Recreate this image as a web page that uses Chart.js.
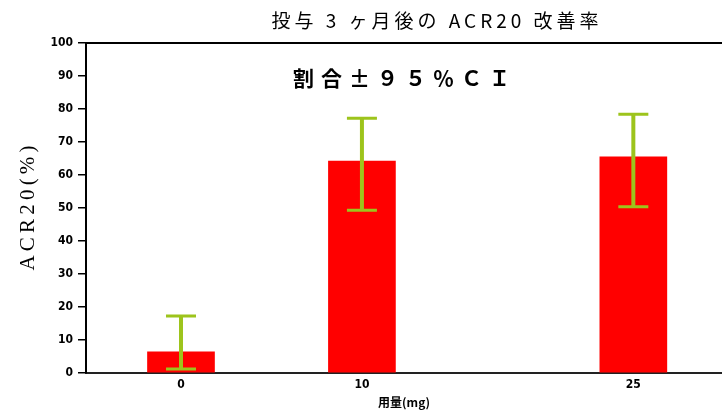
<!DOCTYPE html>
<html>
<head>
<meta charset="utf-8">
<script src="https://cdn.jsdelivr.net/npm/chart.js@4/dist/chart.umd.min.js"></script>
<style>
  html, body { margin: 0; padding: 0; background: #fff; }
  #wrap { width: 722px; height: 410px; position: relative; }
</style>
</head>
<body>
<div id="wrap"><canvas id="c"></canvas></div>
<script>
// Dose groups (mg) and ACR20 response rate with 95% CI
const doses = [0, 10, 25];
const responseRate = [6.4, 64.2, 65.5];
const ciLower = [1.2, 49.3, 50.4];
const ciUpper = [17.3, 77.2, 78.4];
const yTicks = [0, 10, 20, 30, 40, 50, 60, 70, 80, 90, 100];

const titleText = '投与 3 ヶ月後の ACR20 改善率';
const noteText = '割合±９５％ＣＩ';

// Error bars (95% CI) drawn through the chart scales
const errorBarPlugin = {
  id: 'errorBars',
  afterDatasetsDraw(chart) {
    const ctx = chart.ctx;
    const xs = chart.scales.x, ys = chart.scales.y;
    ctx.save();
    ctx.strokeStyle = '#9dc41c';
    doses.forEach((d, i) => {
      const x = xs.getPixelForValue(d);
      const yl = ys.getPixelForValue(ciLower[i]);
      const yu = ys.getPixelForValue(ciUpper[i]);
      ctx.lineWidth = 4;
      ctx.beginPath();
      ctx.moveTo(x, yl);
      ctx.lineTo(x, yu);
      ctx.stroke();
      ctx.lineWidth = 3;
      ctx.beginPath();
      ctx.moveTo(x - 15, yu); ctx.lineTo(x + 15, yu);
      ctx.moveTo(x - 15, yl); ctx.lineTo(x + 15, yl);
      ctx.stroke();
    });
    ctx.restore();
  }
};

// Title, in-plot note and the top frame line
const decorPlugin = {
  id: 'decor',
  afterDraw(chart) {
    const ctx = chart.ctx;
    const a = chart.chartArea;
    ctx.save();
    ctx.strokeStyle = '#000';
    ctx.lineWidth = 2;
    ctx.beginPath();
    ctx.moveTo(a.left - 1, a.top);
    ctx.lineTo(a.right, a.top);
    ctx.stroke();

    ctx.fillStyle = '#000';
    ctx.textAlign = 'center';
    ctx.textBaseline = 'middle';
    ctx.font = '19px "Noto Sans CJK JP", "Noto Sans", sans-serif';
    ctx.letterSpacing = '4px';
    ctx.fillText(titleText, 437, 21);

    ctx.font = 'bold 21px "Noto Sans CJK JP", sans-serif';
    ctx.letterSpacing = '7px';
    ctx.fillText(noteText, 405, 78);
    ctx.restore();
  }
};

new Chart(document.getElementById('c'), {
  type: 'bar',
  data: {
    datasets: [{
      data: doses.map((d, i) => ({ x: d, y: responseRate[i] })),
      backgroundColor: '#ff0000',
      borderWidth: 0,
      barThickness: 67
    }]
  },
  options: {
    responsive: true,
    maintainAspectRatio: false,
    animation: false,
    layout: { padding: { top: 43, right: 0, left: 16, bottom: 0 } },
    plugins: { legend: { display: false }, tooltip: { enabled: false }, title: { display: false } },
    scales: {
      x: {
        type: 'linear',
        offset: false,
        min: -5.25,
        max: 29.9,
        afterBuildTicks(scale) { scale.ticks = doses.map(v => ({ value: v })); },
        afterFit(scale) { scale.height = 37; },
        grid: { display: false },
        border: { display: true, color: '#222', width: 2 },
        ticks: {
          color: '#000',
          padding: -3,
          maxRotation: 0,
          font: { family: '"Liberation Sans Narrow", "DejaVu Sans Condensed", sans-serif', size: 12, weight: 'bold' }
        },
        title: {
          display: true,
          text: '用量(mg)',
          color: '#000',
          padding: { top: 2, bottom: 0 },
          font: { family: '"Noto Sans CJK JP", sans-serif', size: 12, weight: 'bold' }
        }
      },
      y: {
        min: 0,
        max: 100,
        afterBuildTicks(scale) { scale.ticks = yTicks.map(v => ({ value: v })); },
        afterFit(scale) { scale.width = 70; },
        grid: { drawOnChartArea: false, drawTicks: true, tickLength: 8, color: '#000', lineWidth: 1.5 },
        border: { display: true, color: '#000', width: 2 },
        ticks: {
          color: '#000',
          padding: 5,
          font: { family: '"Liberation Sans Narrow", "DejaVu Sans Condensed", sans-serif', size: 12, weight: 'bold' }
        },
        title: {
          display: true,
          text: 'A\u2009C\u2009R\u20092\u20090\u2009(\u2009%\u2009)',
          color: '#000',
          padding: { top: 0, bottom: 4 },
          font: { family: '"Liberation Serif", "DejaVu Serif", serif', size: 21 }
        }
      }
    }
  },
  plugins: [errorBarPlugin, decorPlugin]
});
</script>
</body>
</html>
